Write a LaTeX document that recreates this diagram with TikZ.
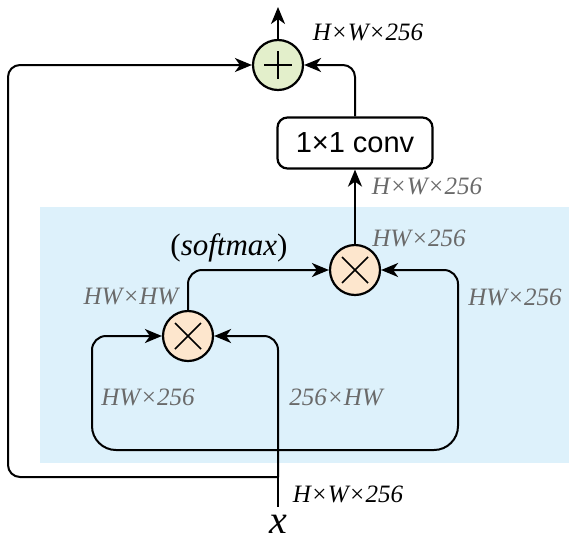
\documentclass[tikz,border=0pt]{standalone}
\usepackage{fontspec}
\setmainfont{Liberation Serif}
\newfontfamily\convfont{Liberation Sans}
\usetikzlibrary{positioning,calc,arrows.meta}
\definecolor{ink}{HTML}{000000}
\definecolor{slate}{HTML}{6A6A6A}
\definecolor{skyfill}{HTML}{DDF1FB}
\definecolor{sumfill}{HTML}{E3EFCB}
\definecolor{mulfill}{HTML}{FDE6CD}

\begin{document}
\begin{tikzpicture}[x=1pt,y=-1pt,
        op/.style={circle,draw=ink,line width=2.2pt,minimum size=50pt,inner sep=0pt},
        blk/.style={draw=ink,line width=2.2pt,rounded corners=10pt,minimum width=155pt,
          minimum height=51pt,font=\convfont\fontsize{29}{32}\selectfont},
        lbl/.style={font=\itshape\fontsize{25}{30}\selectfont,inner sep=0pt},
        glbl/.style={lbl,text=slate},
        e/.style={ink,line width=2pt},
        ea/.style={e,-{Stealth[length=17pt,width=14pt,inset=5pt]}}]
        \useasboundingbox (0,0) rectangle (569,541);
        \fill[skyfill] (40,207) rectangle (569,463);
        % operators and block
        \node[op,fill=sumfill] (sum) at (278,65) {};
        \node[op,fill=mulfill] (mulA) at (188,336) {};
        \node[op,fill=mulfill] (mulB) at (355,270) {};
        \node[blk] (conv) at (355,143) {1×1 conv};
        \node[lbl,font=\itshape\fontsize{40}{44}\selectfont] (x) at (278,524) {x};
        \coordinate (out) at (278,7);
        \coordinate (fork) at (278,477);
        \coordinate (cross) at (278,450);
        \coordinate (skipbend) at (8,477);
        \coordinate (loopL) at (92,450);
        \coordinate (loopR) at (458,450);
        \draw[e] (sum.center) ++(-14,0) -- ++(28,0);
        \draw[e] (sum.center) ++(0,-14) -- ++(0,28);
        \foreach \m in {mulA,mulB} {
          \draw[e,line width=1.6pt] ($(\m)+(-13,-13)$) -- ($(\m)+(13,13)$);
          \draw[e,line width=1.6pt] ($(\m)+(-13,13)$) -- ($(\m)+(13,-13)$);
        }
        % connectors
        \draw[e] (x.north) ++(0,-8) -- (fork);
        \draw[ea,rounded corners=14pt] (fork) |- (mulA.east);
        \draw[ea,rounded corners=12pt] (fork) -- (skipbend) |- (sum.west);
        \draw[ea] (cross) [rounded corners=24pt] -- (loopL) [rounded corners=14pt] |- (mulA.west);
        \draw[ea] (cross) [rounded corners=24pt] -- (loopR) [rounded corners=14pt] |- (mulB.east);
        \draw[ea,rounded corners=14pt] (mulA.north) |- (mulB.west);
        \draw[ea] (mulB.north) -- (conv.south);
        \draw[ea,rounded corners=12pt] (conv.north) |- (sum.east);
        \draw[ea] (sum.north) -- (out);
        % sizes
        \node[lbl] (szOut) at (368,32) {H×W×256};
        \node[glbl] (szConv) at (427,186) {H×W×256};
        \node[glbl] (szMulB) at (419,238) {HW×256};
        \node[lbl,font=\fontsize{31}{34}\selectfont] (soft) at (229,248) {(\textit{softmax})};
        \node[glbl] (szMulA) at (131,296) {HW×HW};
        \node[glbl] (szRight) at (515,297) {HW×256};
        \node[glbl] (szLeft) at (148,397) {HW×256};
        \node[glbl] (szMid) at (336,397) {256×HW};
        \node[lbl] (szIn) at (348,494) {H×W×256};
      \end{tikzpicture}
\end{document}
